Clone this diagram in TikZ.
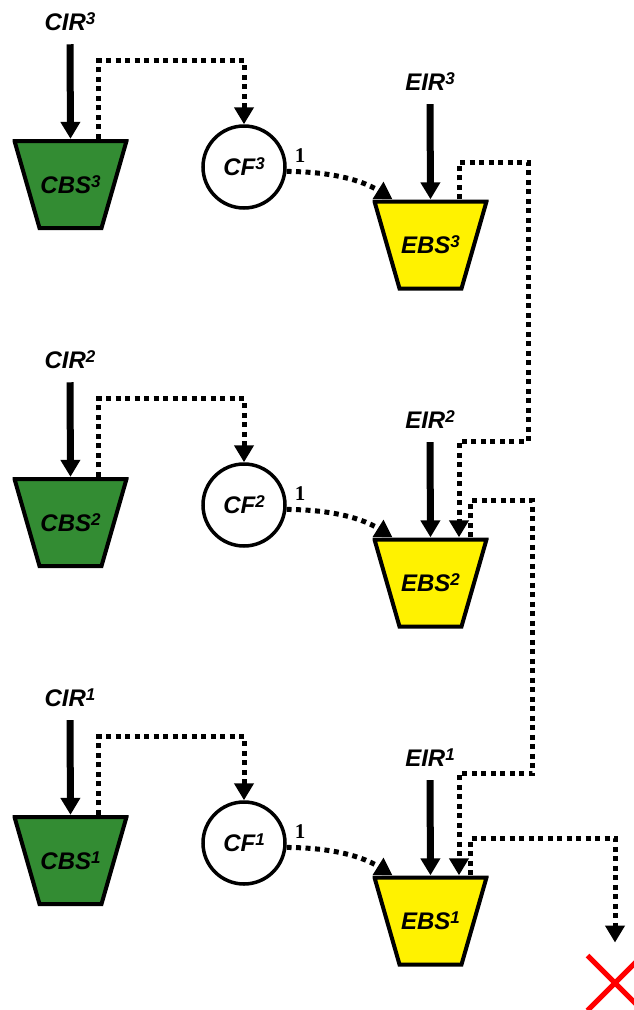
\documentclass[tikz,border=0pt]{standalone}
\usepackage{fontspec}
\setmainfont{Liberation Sans}
\newfontfamily\seriffont{Liberation Serif}
\usetikzlibrary{shapes.geometric,shapes.misc,arrows.meta}
\definecolor{bingreen}{RGB}{51,140,51}
\newcommand\supnum[1]{\raisebox{6pt}{\fontsize{17}{17}\selectfont #1}}
\begin{document}
\begin{tikzpicture}[x=1pt,y=-1pt,
  lab/.style={font=\fontsize{24}{26}\selectfont\bfseries\itshape, inner sep=0pt},
  bin/.style={rectangle, minimum width=116pt, minimum height=91pt, inner sep=0pt, lab,
    path picture={\filldraw[fill=#1, draw=black, line width=4pt]
      ([shift={(2pt,-2pt)}]path picture bounding box.north west) --
      ([shift={(-2pt,-2pt)}]path picture bounding box.north east) --
      ([shift={(-27pt,2pt)}]path picture bounding box.south east) --
      ([shift={(27pt,2pt)}]path picture bounding box.south west) -- cycle;}},
  cbs/.style={bin=bingreen},
  ebs/.style={bin=yellow},
  cf/.style={circle, draw=black, line width=3.5pt, minimum size=82pt, inner sep=0pt, lab},
  one/.style={font=\seriffont\bfseries\fontsize{21}{24}\selectfont, inner sep=0pt},
  flow/.style={line width=7pt, -{Triangle[length=17pt,width=19pt]}},
  dotarr/.style={line width=5pt, dash pattern=on 5pt off 4.5pt, -{Triangle[length=17pt,width=19pt]}},
  xmark/.style={cross out, draw=red, line width=5pt, minimum size=50pt, inner sep=0pt}
]
\useasboundingbox (0,0) rectangle (633,1010);
\foreach \i/\y in {3/0,2/338,1/676}{
  \node[lab] (cir\i) at (70,22+\y) {CIR\supnum{\i}};
  \node[cbs] (cbs\i) at (70.5,184.5+\y) {CBS\supnum{\i}};
  \node[cf] (cf\i) at (244,167+\y) {CF\supnum{\i}};
  \node[one] (one\i) at (300,156+\y) {1};
  \node[lab] (eir\i) at (430,82+\y) {EIR\supnum{\i}};
  \node[ebs] (ebs\i) at (430.5,245+\y) {EBS\supnum{\i}};
  \draw[flow] ([yshift=-13pt]cir\i.south) -- (cbs\i.north);
  \draw[flow] ([yshift=-13pt]eir\i.south) -- (ebs\i.north);
  \draw[dotarr] ([xshift=28pt]cbs\i.north) -- ++(0,-78) -| (cf\i.north);
  \draw[dotarr] (cf\i.-6) .. controls +(35,0) and +(-35,-22) .. ([xshift=-38pt]ebs\i.north);
}
\node[xmark] (x) at (615,983) {};
\draw[dotarr] ([xshift=28.5pt]ebs3.north) -- ++(0,-37) -- ++(69,0) -- ++(0,279) -| ([xshift=28.5pt]ebs2.north);
\draw[dotarr] ([xshift=40pt]ebs2.north) -- ++(0,-36.5) -- ++(62,0) -- ++(0,273) -| ([xshift=28.5pt]ebs1.north);
\draw[dotarr] ([xshift=40pt]ebs1.north) -- ++(0,-37) -| ([yshift=13pt]x.north);
\end{tikzpicture}
\end{document}
